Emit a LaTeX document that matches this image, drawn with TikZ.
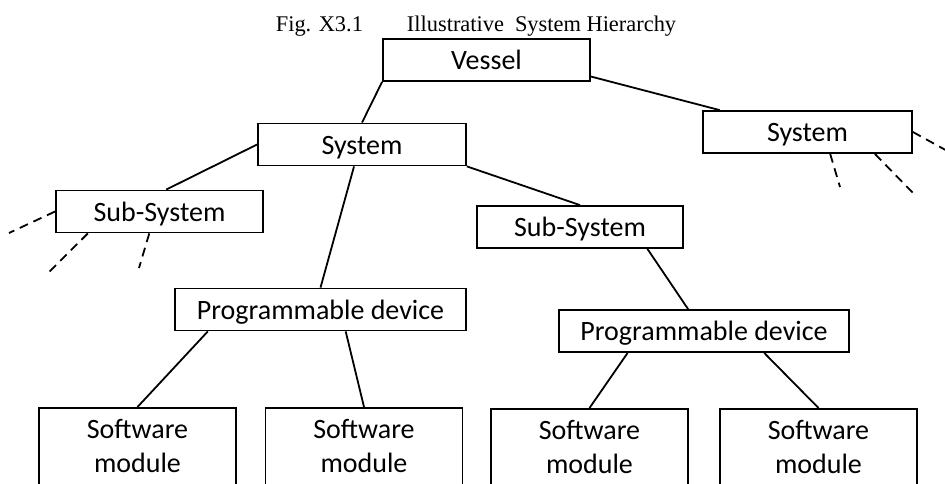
\documentclass[tikz,border=0pt]{standalone}
\usepackage{fontspec}
\setmainfont{Liberation Serif}
\newfontfamily\boxfont{Carlito}

\begin{document}
\begin{tikzpicture}[x=1pt,y=-1pt,line width=1.8pt,
    tierbox/.style={draw, inner sep=0pt, minimum height=42pt,
        text height=19.5pt, text depth=0pt, font=\boxfont\fontsize{28}{34}\selectfont},
    swbox/.style={draw, inner sep=0pt, anchor=north, minimum width=197pt,
        text height=31pt, text depth=100pt, font=\boxfont\fontsize{28}{34}\selectfont},
    more/.style={dash pattern=on 9pt off 6pt}]
\useasboundingbox (0,0) rectangle (945,484);
\clip (0,0) rectangle (945,484);

\node [font=\fontsize{22.4}{26}\selectfont, anchor=base] (title) at (476,32)
    {Fig. X3.1\hspace{44pt}Illustrative\hspace{11pt}System Hierarchy};

\node [tierbox, minimum width=207pt] (vessel) at (486.5,60) {Vessel};
\node [tierbox, minimum width=208pt] (sysA) at (362,144.5) {System};
\node [tierbox, minimum width=209pt] (sysB) at (807.5,132) {System};
\node [tierbox, minimum width=207pt] (subA) at (159.5,211.5) {Sub-System};
\node [tierbox, minimum width=206pt] (subB) at (580,227) {Sub-System};
\node [tierbox, minimum width=291pt] (devA) at (320.5,309.5) {Programmable device};
\node [tierbox, minimum width=290pt] (devB) at (704,331) {Programmable device};

% software modules run off the bottom edge
\node [swbox] (swA) at (137.5,407) {\begin{tabular}[t]{c}Software\\module\end{tabular}};
\node [swbox] (swB) at (364,407) {\begin{tabular}[t]{c}Software\\module\end{tabular}};
\node [swbox] (swC) at (589.5,408) {\begin{tabular}[t]{c}Software\\module\end{tabular}};
\node [swbox] (swD) at (818.5,408) {\begin{tabular}[t]{c}Software\\module\end{tabular}};

\draw (vessel.south west) -- (sysA.north);
\draw (vessel.-9) -- (sysB.166);
\draw (sysA.west) -- (subA.73);
\draw (sysA.250) -- (devA.north);
\draw (sysA.south east) -- (subB.north);
\draw (subB.-18) -- (devB.126);
\draw (devA.191) -- (swA.north);
\draw (devA.-41) -- (swB.north);
\draw (devB.196) -- (swC.north);
\draw (devB.-20) -- (swD.north);

% branches not shown
\coordinate (subAx1) at (9,233);
\coordinate (subAx2) at (46,275);
\coordinate (subAx3) at (139,268);
\coordinate (sysBx1) at (960,158);
\coordinate (sysBx2) at (840,187);
\coordinate (sysBx3) at (913,193);
\draw [more] (subA.west) -- (subAx1);
\draw [more] (subA.-163) -- (subAx2);
\draw [more] (subA.-115) -- (subAx3);
\draw [more] (sysB.east) -- (sysBx1);
\draw [more] (sysB.-44) -- (sysBx2);
\draw [more] (sysB.-18) -- (sysBx3);
\end{tikzpicture}
\end{document}
